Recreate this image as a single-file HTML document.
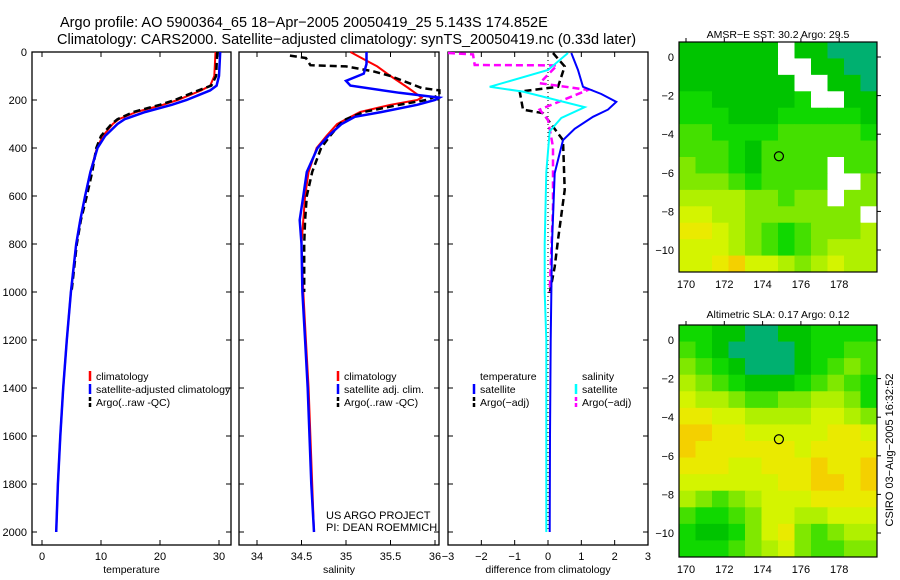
<!DOCTYPE html>
<html><head><meta charset="utf-8"><style>
body{margin:0;background:#fff;}
svg{display:block;font-family:"Liberation Sans",sans-serif;}
</style></head><body>
<svg id="c" width="900" height="580" viewBox="0 0 900 580">
<text x="60" y="27" font-size="14.5">Argo profile: AO 5900364_65 18−Apr−2005 20050419_25 5.143S 174.852E</text>
<text x="57" y="44" font-size="14.5">Climatology: CARS2000. Satellite−adjusted climatology: synTS_20050419.nc (0.33d later)</text>
<text x="778" y="38" font-size="10.5" text-anchor="middle">AMSR−E SST: 30.2 Argo: 29.5</text>
<text x="778" y="318" font-size="10.5" text-anchor="middle">Altimetric SLA: 0.17 Argo: 0.12</text>
<text transform="translate(893,450) rotate(-90)" font-size="11" text-anchor="middle">CSIRO 03−Aug−2005 16:32:52</text>
<text x="326" y="519" font-size="11">US ARGO PROJECT</text>
<text x="326" y="531" font-size="11">PI: DEAN ROEMMICH</text>
</svg>
<script>
// ---- depth grid & profile data ----
const tDepth=[0,100,140,160,180,200,220,250,280,300,350,400,500,600,700,800,1000,1200,1400,1600,1800,2000];
const tClim=[29.4,29.2,28.5,27,25,23,20.5,16,13,12,10.3,9.3,8.2,7.3,6.5,5.8,4.9,4.2,3.6,3.1,2.7,2.4];
const tSat=[30.2,30,29.6,28.5,26.5,24.5,22,17.5,14,12.8,10.7,9.4,8.2,7.3,6.5,5.8,4.9,4.2,3.6,3.1,2.7,2.4];
const tArgoDepth=[0,100,140,160,180,200,220,250,280,300,350,400,500,600,700,800,1000];
const tArgo=[29.7,29.5,28.7,26.5,24.5,22.5,20,15.5,12.8,11.8,10,9.2,8.5,7.6,6.6,5.9,5.0];
const sClimDepth=[0,30,60,100,150,190,200,220,250,280,300,350,400,500,600,800,1000,1200,1400,1600,1800,2000];
const sClim=[35.05,35.2,35.35,35.5,35.7,35.85,35.8,35.5,35.16,35.0,34.9,34.78,34.67,34.58,34.54,34.5,34.52,34.55,34.58,34.6,34.62,34.64];
const sSatDepth=[0,50,90,120,140,170,190,200,220,250,270,300,350,400,500,600,700,800,1000,1200,1400,1600,1800,2000];
const sSat=[35.23,35.23,35.2,35.0,35.05,35.6,36.05,36.0,35.8,35.4,35.1,34.95,34.8,34.68,34.56,34.52,34.48,34.5,34.51,34.54,34.57,34.59,34.61,34.64];
const sArgoDepth=[15,25,55,60,80,100,150,160,180,200,220,250,280,300,350,400,500,600,700,800,1000];
const sArgo=[34.37,34.55,34.6,35.0,35.3,35.5,35.85,36.05,36.05,35.9,35.6,35.2,35.0,34.93,34.82,34.72,34.62,34.56,34.54,34.53,34.53];
const dTSatDepth=[4,75,145,175,208,240,270,320,367,505,800,1200,1600,2000];
const dTSat=[0.7,0.9,1.05,1.6,2.05,1.8,1.35,0.8,0.45,0.2,0.12,0.08,0.06,0.05];
const dSSatDepth=[4,75,145,165,230,275,330,500,800,1000,1200,1600,2000];
const dSSat=[0.6,0,-1.75,-0.75,1.1,0.4,0.05,-0.05,-0.1,-0.1,-0.05,-0.05,-0.05];
const dTArgoDepth=[4,60,145,165,240,255,367,575,783,895,1004];
const dTArgo=[0.15,0.5,0.3,-0.85,-0.75,-0.15,0.45,0.5,0.3,0.2,0.05];
const dSArgoDepth=[4,10,54,56,130,158,240,283,395,645,1000];
const dSArgo=[-3,-2.25,-2.2,0.27,-0.25,1.2,-0.25,0,0.15,0.15,0.05];
const depthTicks=[0,200,400,600,800,1000,1200,1400,1600,1800,2000];
const tTicks=[0,10,20,30];
const sTicks=[34,34.5,35,35.5,36];
const dTicks=[-3,-2,-1,0,1,2,3];
const latTicks=[0,-2,-4,-6,-8,-10];
const lonTicks=[170,172,174,176,178];
const floatLon=174.852, floatLat=-5.143;
const sstGrid=["111111W11000","111111WW1100","1111111WW110","22111112WW11","222111222221","332222333332","333213333333","433213333W33","444323333WW4","555544344W44","66554444444W","776543234445","666543234555","667866545655"];
const slaGrid=["221100112222","321000012233","432100012343","543211123432","655433445542","776655556654","887766666776","877777767777","777667778778","666666778878","543456667777","322346655666","211246743455","222345643344"];

const NS='http://www.w3.org/2000/svg';
const svg=document.getElementById('c');
function mk(tag,attrs,parent){const e=document.createElementNS(NS,tag);for(const k in attrs)e.setAttribute(k,attrs[k]);(parent||svg).appendChild(e);return e;}

const Y0=52,Y1=545;
const yD=d=>52+d*0.24;
const panels=[
 {x0:32,x1:231,fx:v=>42+(v-0)*5.9,ticks:tTicks,lab:'temperature',name:'temperature-panel'},
 {x0:239,x1:439,fx:v=>257+(v-34)*89,ticks:sTicks,lab:'salinity',name:'salinity-panel'},
 {x0:448,x1:648,fx:v=>548+v*33.33,ticks:dTicks,lab:'difference from climatology',name:'difference-panel'}
];
panels.forEach((p,i)=>{
 const g=mk('g',{});
 
 
 const r=mk('rect',{x:p.x0,y:Y0,width:p.x1-p.x0,height:Y1-Y0,fill:'none',stroke:'#000','stroke-width':1.3},g);
 
 
 p.ticks.forEach(t=>{const x=p.fx(t);
  mk('line',{x1:x,x2:x,y1:Y0,y2:Y0+5,stroke:'#000'},g);
  mk('line',{x1:x,x2:x,y1:Y1,y2:Y1-5,stroke:'#000'},g);
  const tx=mk('text',{x:x,y:560,'font-size':11,'text-anchor':'middle'},g);tx.textContent=String(t).replace('-','−');
  
  
 });
 const xl=mk('text',{x:(p.x0+p.x1)/2,y:573,'font-size':10.5,'text-anchor':'middle'},g);xl.textContent=p.lab;
 
 
 depthTicks.forEach(d=>{const y=yD(d);
  mk('line',{x1:p.x0,x2:p.x0+5,y1:y,y2:y,stroke:'#000'},g);
  mk('line',{x1:p.x1,x2:p.x1-5,y1:y,y2:y,stroke:'#000'},g);
  if(i===0){const tx=mk('text',{x:27,y:y+4,'font-size':11,'text-anchor':'end'},g);tx.textContent=d;
   
   }
 });
});
function line(p,depths,vals,color,dash,w,name){
 const pts=depths.map((d,i)=>p.fx(vals[i]).toFixed(1)+','+yD(d).toFixed(1)).join(' ');
 const e=mk('polyline',{points:pts,fill:'none',stroke:color,'stroke-width':w||2,'stroke-dasharray':dash||'none'});
 
 
}
const P1=panels[0],P2=panels[1],P3=panels[2];
line(P1,tDepth,tClim,'#f00',null,2,'temp-climatology-line');
line(P1,tArgoDepth,tArgo,'#000','7,4',2.5,'temp-argo-line');
line(P1,tDepth,tSat,'#00f',null,2.5,'temp-satellite-line');
line(P2,sClimDepth,sClim,'#f00',null,2,'sal-climatology-line');
line(P2,sArgoDepth,sArgo,'#000','7,4',2.5,'sal-argo-line');
line(P2,sSatDepth,sSat,'#00f',null,2.5,'sal-satellite-line');
const zl=mk('line',{x1:P3.fx(0),x2:P3.fx(0),y1:Y0,y2:yD(2000),stroke:'#000','stroke-dasharray':'1,3'});


line(P3,dTArgoDepth,dTArgo,'#000','7,4',2.5,'diff-temp-argo-line');
line(P3,dSArgoDepth,dSArgo,'#f0f','7,4',2.5,'diff-sal-argo-line');
line(P3,dTSatDepth,dTSat,'#00f',null,2,'diff-temp-satellite-line');
line(P3,dSSatDepth,dSSat,'#0ff',null,2,'diff-sal-satellite-line');

function legend(x,y,items,name){
 const g=mk('g',{});
 
 
 items.forEach((it,i)=>{const yy=y+i*13;
  if(it[1]){const l=mk('line',{x1:x,x2:x,y1:yy-9,y2:yy+1,stroke:it[1],'stroke-width':2.5,'stroke-dasharray':it[2]?'4,2':'none'},g);
   
   }
  const t=mk('text',{x:x+6,y:yy,'font-size':10.5},g);t.textContent=it[0];
  
  
 });
}
legend(90,380,[['climatology','#f00'],['satellite-adjusted climatology','#00f'],['Argo(..raw -QC)','#000',1]],'temperature-legend');
legend(338,380,[['climatology','#f00'],['satellite adj. clim.','#00f'],['Argo(..raw -QC)','#000',1]],'salinity-legend');
legend(474,380,[['temperature',null],['satellite','#00f'],['Argo(−adj)','#000',1]],'diff-temp-legend');
legend(576,380,[['salinity',null],['satellite','#0ff'],['Argo(−adj)','#f0f',1]],'diff-sal-legend');

const cols=['#00b070','#00c400','#10d800','#44e000','#80e800','#b0f000','#d4f400','#eaea00','#f4d000','#f4b000'];
function drawMap(y0,y1,grid,name){
 const X0=679,X1=877;
 const fx=l=>686+(l-170)*19.15;
 const fy=a=>y0+15+(0-a)*19.3;
 const g=mk('g',{});
 
 
 const nr=grid.length,nc=grid[0].length,cw=(X1-X0)/nc,ch=(y1-y0)/nr;
 grid.forEach((row,r)=>{for(let c=0;c<nc;c++){const ch_=row[c];
  const rc=mk('rect',{x:X0+c*cw,y:y0+r*ch,width:cw+0.5,height:ch+0.5,fill:ch_==='W'?'#fff':cols[+ch_]},g);
  
  }});
 mk('rect',{x:X0,y:y0,width:X1-X0,height:y1-y0,fill:'none',stroke:'#000','stroke-width':1.2},g);
 latTicks.forEach(a=>{const y=fy(a);
  mk('line',{x1:X1,x2:X1+4,y1:y,y2:y,stroke:'#000'},g);
  const t=mk('text',{x:674,y:y+4,'font-size':11,'text-anchor':'end'},g);t.textContent=String(a).replace('-','−');
  
  });
 lonTicks.forEach(l=>{const x=fx(l);
  mk('line',{x1:x,x2:x,y1:y0,y2:y0-4,stroke:'#000'},g);
  const t=mk('text',{x:x,y:y1+16,'font-size':11,'text-anchor':'middle'},g);t.textContent=l;
  
  });
 const c=mk('circle',{cx:fx(floatLon),cy:fy(floatLat),r:4.5,fill:'none',stroke:'#000','stroke-width':1.2},g);
 
 
}
drawMap(42,272,sstGrid,'sst-map');
drawMap(325,557,slaGrid,'sla-map');
</script>
</body></html>
